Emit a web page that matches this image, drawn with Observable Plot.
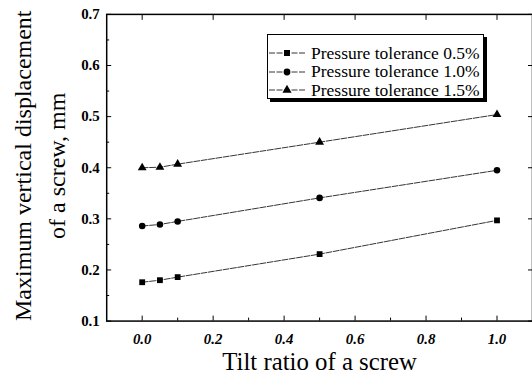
<!DOCTYPE html>
<html><head><meta charset="utf-8">
<script src="https://cdn.jsdelivr.net/npm/d3@7"></script>
<script src="https://cdn.jsdelivr.net/npm/@observablehq/plot@0.6"></script>
<style>
body{margin:0;overflow:hidden;background:#fff}
#c{position:relative;width:532px;height:378px;overflow:hidden}
#legend{position:absolute;left:267px;top:34px;width:215px;height:63px;border:1px solid #000;background:#fff;box-shadow:3px 3px 0 #000;font-family:"Liberation Serif","Times New Roman",serif;font-size:17.5px;color:#000}
.row{position:absolute;left:0;height:18px;display:flex;align-items:center;white-space:nowrap}
.row span{margin-left:5px}
</style>
</head><body><div id="c"><div id="legend"></div></div>
<script>
const tilt = [0, 0.05, 0.1, 0.5, 1.0];
const seriesNames = ["Pressure tolerance 0.5%", "Pressure tolerance 1.0%", "Pressure tolerance 1.5%"];
const tol05 = [0.176, 0.180, 0.186, 0.231, 0.297];
const tol10 = [0.286, 0.289, 0.295, 0.341, 0.395];
const tol15 = [0.400, 0.401, 0.407, 0.450, 0.504];
const symbols = ["square", "circle", "triangle"];
const xTicks = [0, 0.2, 0.4, 0.6, 0.8, 1.0];
const xMinor = [0.1, 0.3, 0.5, 0.7, 0.9];
const yTicks = [0.1, 0.2, 0.3, 0.4, 0.5, 0.6, 0.7];
const yMinor = [0.15, 0.25, 0.35, 0.45, 0.55, 0.65];

const values = [tol05, tol10, tol15];
const data = [];
values.forEach((arr, s) => arr.forEach((v, i) => data.push({series: seriesNames[s], x: tilt[i], y: v})));

const serif = "'Liberation Serif','Times New Roman',serif";
const plot = Plot.plot({
  width: 536, height: 378,
  marginLeft: 107, marginRight: 0, marginTop: 14, marginBottom: 55,
  style: {fontFamily: serif, background: "#fff", color: "#000"},
  x: {domain: [-0.1, 1.1]},
  y: {domain: [0.1, 0.7]},
  symbol: {domain: seriesNames, range: symbols},
  marks: [
    Plot.frame({stroke: "#000", strokeWidth: 1.5}),
    Plot.axisX({ticks: xTicks, tickSize: -5, tickPadding: 17, tickFormat: d => d.toFixed(1), fontSize: 15, fontStyle: "italic", fontWeight: "bold", fontFamily: serif, label: null}),
    Plot.axisX({ticks: xMinor, tickSize: -3, tickFormat: () => "", label: null}),
    Plot.axisX({anchor: "top", ticks: xTicks, tickSize: -5, tickFormat: () => "", label: null}),
    Plot.axisY({ticks: yTicks, tickSize: -5, tickPadding: 12, tickFormat: d => d.toFixed(1), fontSize: 15, fontWeight: "bold", fontFamily: serif, label: null}),
    Plot.axisY({ticks: yMinor, tickSize: -3, tickFormat: () => "", label: null}),
    Plot.axisY({anchor: "right", ticks: yTicks, tickSize: -5, tickFormat: () => "", label: null}),
    Plot.line(data, {x: "x", y: "y", z: "series", stroke: "#000", strokeWidth: 0.8, strokeDasharray: "6,1.5"}),
    Plot.dot(data, {x: "x", y: "y", symbol: "series", fill: "#000", stroke: "none", r: 3.3}),
    Plot.text(["Tilt ratio of a screw"], {frameAnchor: "bottom", lineAnchor: "middle", dy: 41, fontSize: 25, fontFamily: serif, fill: "#000"}),
    Plot.text(["Maximum vertical displacement\nof a screw, mm"], {frameAnchor: "left", textAnchor: "middle", lineAnchor: "middle", dx: -70, dy: -2, rotate: -90, fontSize: 24.2, lineHeight: 1.42, fontFamily: serif, fill: "#000"})
  ]
});
document.getElementById("c").prepend(plot);

// legend
const lg = document.getElementById("legend");
seriesNames.forEach((name, i) => {
  const row = document.createElement("div");
  row.className = "row";
  row.style.top = (9 + i * 18.5) + "px";
  const svg = d3.create("svg").attr("width", 38).attr("height", 18);
  svg.append("line").attr("x1", 1).attr("x2", 37).attr("y1", 9).attr("y2", 9).attr("stroke", "#000").attr("stroke-width", 0.8).attr("stroke-dasharray", "6,1.5");
  const sym = [d3.symbolSquare, d3.symbolCircle, d3.symbolTriangle][i];
  svg.append("path").attr("d", d3.symbol(sym, 36)).attr("transform", "translate(19,9)").attr("fill", "#000");
  row.appendChild(svg.node());
  const t = document.createElement("span");
  t.textContent = name;
  row.appendChild(t);
  lg.appendChild(row);
});
</script></body></html>
